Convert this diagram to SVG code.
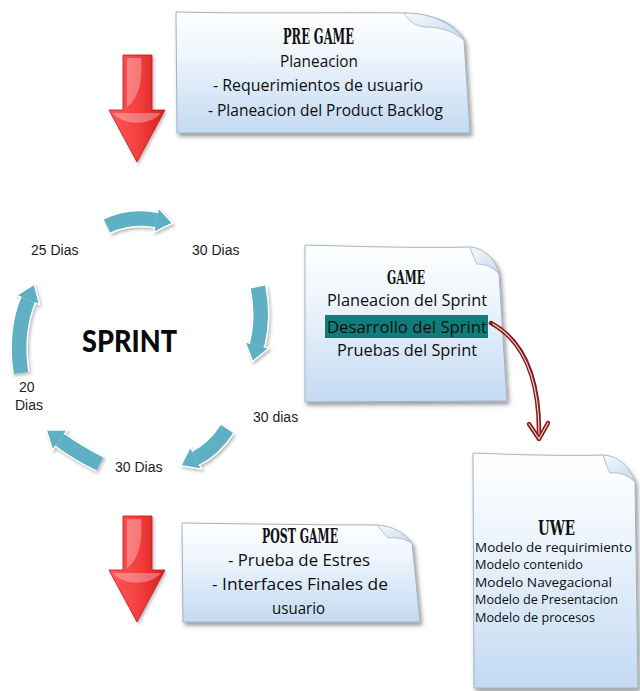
<svg xmlns="http://www.w3.org/2000/svg" width="640" height="691" viewBox="0 0 640 691">
  <defs>
    <style>
      .paper { fill: url(#paperFill); stroke: #a4b3c2; stroke-width: 1; filter: url(#paperShadow); }
      .flap { fill: url(#flapFill); stroke: #a4b3c2; stroke-width: 0.8; }
      .hd { font-family: "DejaVu Serif Condensed", "Liberation Serif", serif; font-weight: bold; fill: #111; }
      .bd { font-family: "Open Sans", "DejaVu Sans", sans-serif; font-size: 16px; fill: #0e0e0e; }
      .uw { font-family: "Open Sans", "DejaVu Sans", sans-serif; font-size: 13px; fill: #0e0e0e; }
      .lbl { font-family: "Liberation Sans", Arial, sans-serif; font-size: 14px; fill: #1c1c1c; }
      .cyc-w { fill: none; stroke: #ffffff; stroke-width: 17.5; }
      .cyc { fill: none; stroke: #5eb0c4; stroke-width: 14.5; marker-end: url(#tealHead); }
      .red { fill: url(#redFill); stroke: #c21818; stroke-width: 0.8; }
      .gloss { fill: #ffffff; opacity: 0.3; }
    </style>
    <linearGradient id="paperFill" x1="0" y1="0" x2="0" y2="1">
      <stop offset="0" stop-color="#ffffff"/>
      <stop offset="0.35" stop-color="#eef5fc"/>
      <stop offset="1" stop-color="#c3daf2"/>
    </linearGradient>
    <linearGradient id="flapFill" x1="0" y1="0" x2="1" y2="1">
      <stop offset="0" stop-color="#f6f9fd"/>
      <stop offset="1" stop-color="#c4daf0"/>
    </linearGradient>
    <linearGradient id="redFill" x1="0" y1="0" x2="1" y2="0">
      <stop offset="0" stop-color="#ff5a5a"/>
      <stop offset="0.5" stop-color="#f54040"/>
      <stop offset="1" stop-color="#d61e1e"/>
    </linearGradient>
    <filter id="paperShadow" x="-10%" y="-10%" width="125%" height="130%">
      <feDropShadow dx="2" dy="3" stdDeviation="2" flood-color="#444" flood-opacity="0.55"/>
    </filter>
    <filter id="soft" filterUnits="userSpaceOnUse" x="0" y="0" width="640" height="691">
      <feDropShadow dx="1.5" dy="2" stdDeviation="1.5" flood-color="#555" flood-opacity="0.4"/>
    </filter>
    <marker id="tealHead" markerUnits="userSpaceOnUse" viewBox="-2 -15 24 30" markerWidth="24" markerHeight="30" refX="0" refY="0" orient="auto" overflow="visible">
      <path d="M0,-7 L0,-12.5 L17,0 L0,12.5 L0,7" fill="#5eb0c4" stroke="#ffffff" stroke-width="1.4"/>
    </marker>
  </defs>

  <rect width="640" height="691" fill="#ffffff"/>

  <!-- PRE GAME note -->
  <g id="pregame">
    <path class="paper" d="M176,12 C260,14 350,12 404,13 C432,14 455,22 464,40 L470,133 L177,133 Z"/>
    <path class="flap" d="M404,13 C430,13 452,22 464,40 C452,30 438,27 425,27 C414,26 408,20 404,13 Z"/>
    <text class="hd" x="283" y="44" font-size="22" textLength="71" lengthAdjust="spacingAndGlyphs">PRE GAME</text>
    <text class="bd" x="280" y="67" textLength="78" lengthAdjust="spacingAndGlyphs">Planeacion</text>
    <text class="bd" x="213" y="91" textLength="210" lengthAdjust="spacingAndGlyphs">- Requerimientos de usuario</text>
    <text class="bd" x="208" y="116" textLength="235" lengthAdjust="spacingAndGlyphs">- Planeacion del Product Backlog</text>
  </g>

  <!-- GAME note -->
  <g id="game">
    <path class="paper" d="M305,245 C370,247 430,248 470,247 C485,250 497,260 499,274 L507,401 L305,402 Z"/>
    <path class="flap" d="M470,247 C485,248 496,260 499,274 C492,266 484,264 477,264 C473,258 472,252 470,247 Z"/>
    <text class="hd" x="387" y="284" font-size="19" textLength="38" lengthAdjust="spacingAndGlyphs">GAME</text>
    <text class="bd" x="327" y="306" font-size="15" textLength="160" lengthAdjust="spacingAndGlyphs">Planeacion del Sprint</text>
    <rect x="325" y="315" width="163" height="23" fill="#0e7c7b"/>
    <text class="bd" x="327" y="333" font-size="15" textLength="160" lengthAdjust="spacingAndGlyphs">Desarrollo del Sprint</text>
    <text class="bd" x="337" y="356" font-size="15" textLength="140" lengthAdjust="spacingAndGlyphs">Pruebas del Sprint</text>
  </g>

  <!-- UWE note -->
  <g id="uwe">
    <path class="paper" d="M473,453 C520,455 570,456 603,455 C618,458 630,468 635,482 L638,688 L474,688 Z"/>
    <path class="flap" d="M603,455 C620,456 631,468 635,482 C627,474 618,472 610,473 C607,467 605,461 603,455 Z"/>
    <text class="hd" x="538" y="535" font-size="20" textLength="37" lengthAdjust="spacingAndGlyphs">UWE</text>
    <text class="uw" x="475" y="552" textLength="157" lengthAdjust="spacingAndGlyphs">Modelo de requirimiento</text>
    <text class="uw" x="475" y="569" textLength="108" lengthAdjust="spacingAndGlyphs">Modelo contenido</text>
    <text class="uw" x="475" y="587" textLength="137" lengthAdjust="spacingAndGlyphs">Modelo Navegacional</text>
    <text class="uw" x="475" y="604" textLength="143" lengthAdjust="spacingAndGlyphs">Modelo de Presentacion</text>
    <text class="uw" x="475" y="622" textLength="120" lengthAdjust="spacingAndGlyphs">Modelo de procesos</text>
  </g>

  <!-- POST GAME note -->
  <g id="postgame">
    <path class="paper" d="M182,523 C250,524 330,525 377,525 C392,527 405,534 412,543 L420,622 L183,622 Z"/>
    <path class="flap" d="M377,525 C393,526 405,533 412,543 C404,538 394,537 388,538 C384,533 380,529 377,525 Z"/>
    <text class="hd" x="262" y="543" font-size="20" textLength="76" lengthAdjust="spacingAndGlyphs">POST GAME</text>
    <text class="bd" x="228" y="566" textLength="142" lengthAdjust="spacingAndGlyphs">- Prueba de Estres</text>
    <text class="bd" x="212" y="590" textLength="176" lengthAdjust="spacingAndGlyphs">- Interfaces Finales de</text>
    <text class="bd" x="272" y="614" textLength="53" lengthAdjust="spacingAndGlyphs">usuario</text>
  </g>

  <!-- Sprint cycle centre and step labels -->
  <g id="sprint">
    <text x="82" y="352" font-family="Lato, 'DejaVu Sans', sans-serif" font-weight="900" font-size="30" fill="#0a0a0a" textLength="95" lengthAdjust="spacingAndGlyphs">SPRINT</text>
  </g>
  <g id="labels">
    <text class="lbl" x="31" y="255">25 Dias</text>
    <text class="lbl" x="192" y="255">30 Dias</text>
    <text class="lbl" x="253" y="422">30 dias</text>
    <text class="lbl" x="115" y="472">30 Dias</text>
    <text class="lbl" x="19" y="392">20</text>
    <text class="lbl" x="15" y="410">Dias</text>
  </g>

  <g id="connectors">
    <!-- cycle arrows -->
    <g filter="url(#soft)">
      <path class="cyc-w" d="M107,226 Q130,215 156,220"/>
      <path class="cyc" d="M107,226 Q130,215 156,220"/>
    </g>
    <g filter="url(#soft)">
      <path class="cyc-w" d="M258,287 Q264,318 257,345"/>
      <path class="cyc" d="M258,287 Q264,318 257,345"/>
    </g>
    <g filter="url(#soft)">
      <path class="cyc-w" d="M227,429 Q214,449 196,458"/>
      <path class="cyc" d="M227,429 Q214,449 196,458"/>
    </g>
    <g filter="url(#soft)">
      <path class="cyc-w" d="M100,464 Q78,453 60,440"/>
      <path class="cyc" d="M100,464 Q78,453 60,440"/>
    </g>
    <g filter="url(#soft)">
      <path class="cyc-w" d="M21,373 Q15,332 28,300"/>
      <path class="cyc" d="M21,373 Q15,332 28,300"/>
    </g>

    <!-- red phase arrows -->
    <g filter="url(#soft)">
      <path class="red" d="M123,55 L152,55 L152,110 L165,110 L137,162 L109,110 L123,110 Z"/>
      <path class="gloss" d="M127,58 L141,58 C143,80 139,98 127,107 Z"/>
      <path class="gloss" d="M113,113 L161,113 C150,126 124,126 113,113 Z"/>
    </g>
    <g filter="url(#soft)">
      <path class="red" d="M123,516 L152,516 L152,570 L165,570 L137,622 L109,570 L123,570 Z"/>
      <path class="gloss" d="M127,519 L141,519 C143,541 139,559 127,568 Z"/>
      <path class="gloss" d="M113,573 L161,573 C150,586 124,586 113,573 Z"/>
    </g>

    <!-- Desarrollo del Sprint to UWE -->
    <g fill="none" stroke-linecap="round" stroke-linejoin="round">
      <path d="M491,323 C515,336 540,365 539,436" stroke="#8a1b1b" stroke-width="4.5"/>
      <path d="M529,424 L539,439 L548,423" stroke="#8a1b1b" stroke-width="4.5"/>
      <path d="M493,324 C515,337 539,366 539,434" stroke="#e6d6d6" stroke-width="1.2"/>
      <path d="M529,424 L539,439 L548,423" stroke="#e6d6d6" stroke-width="1.2"/>
    </g>
  </g>
</svg>
